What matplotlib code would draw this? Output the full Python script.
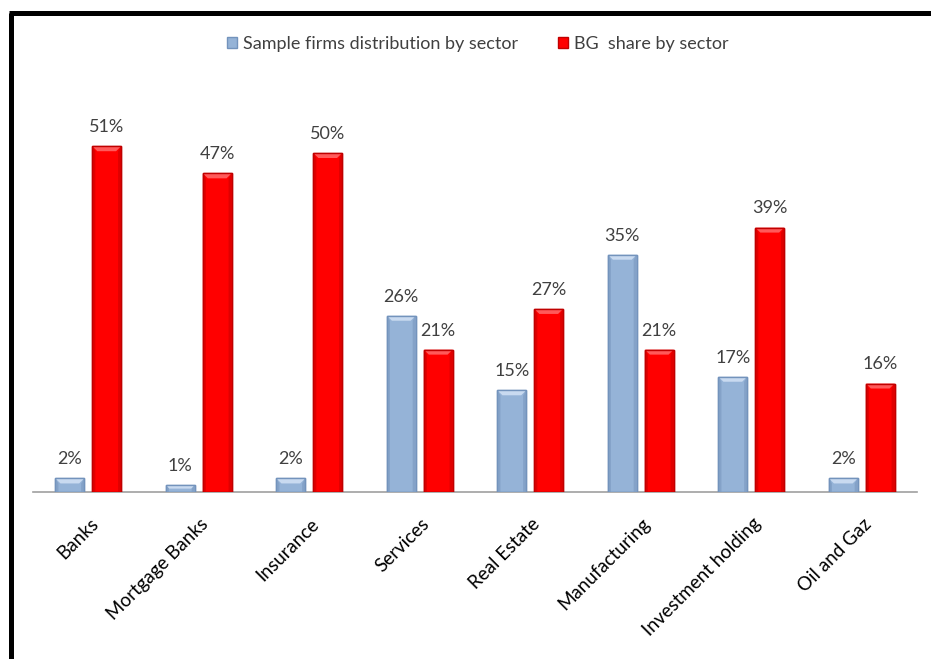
import matplotlib
matplotlib.use("Agg")
import matplotlib.pyplot as plt
import matplotlib.transforms as mtrans
import numpy as np
from matplotlib.lines import Line2D
from matplotlib.patches import Patch, Polygon

sectors = ["Banks", "Mortgage Banks", "Insurance", "Services", "Real Estate",
           "Manufacturing", "Investment holding", "Oil and Gaz"]
sample_share = [2, 1, 2, 26, 15, 35, 17, 2]
bg_share = [51, 47, 50, 21, 27, 21, 39, 16]
series_names = ["Sample firms distribution by sector", "BG  share by sector"]

blue_face, blue_edge, blue_light, blue_dark = "#95B3D7", "#7393BC", "#C9DAF0", "#84A2C8"
red_face, red_edge, red_light, red_dark = "#FF0000", "#C00000", "#FF5A5A", "#E00000"
text_color = "#404040"

plt.rcParams["font.family"] = ["Lato", "DejaVu Sans"]

fig = plt.figure(figsize=(9.31, 6.59), dpi=100)
fig.patch.set_facecolor("white")
W, H = 931, 659
ax = fig.add_axes([33 / W, 1 - 492 / H, (917 - 33) / W, (492 - 100) / H])

x = np.arange(len(sectors))
off, bw = 0.167, 0.26
b1 = ax.bar(x - off, sample_share, bw, color=blue_face, edgecolor=blue_edge, linewidth=1.0, zorder=3)
b2 = ax.bar(x + off, bg_share, bw, color=red_face, edgecolor=red_edge, linewidth=1.0, zorder=3)

ax.set_xlim(-0.5, len(sectors) - 0.5)
ax.set_ylim(0, (492 - 100) / 6.78)

# bevelled look: light top facet and darker side facets, in pixel units
fig.canvas.draw()
bev = 5
for bars, light, dark in ((b1, blue_light, blue_dark), (b2, red_light, red_dark)):
    for r in bars:
        (x0, y0), (x1, y1) = ax.transData.transform(
            [(r.get_x(), 0), (r.get_x() + r.get_width(), r.get_height())])
        b = min(bev, (y1 - y0) / 2)
        for pts, c in (
            ([(x0, y1), (x1, y1), (x1 - b, y1 - b), (x0 + b, y1 - b)], light),
            ([(x0, y0), (x0 + 3, y0), (x0 + 3, y1 - b), (x0, y1)], dark),
            ([(x1, y0), (x1 - 3, y0), (x1 - 3, y1 - b), (x1, y1)], dark),
        ):
            ax.add_patch(Polygon(pts, closed=True, transform=None, facecolor=c,
                                 edgecolor="none", zorder=3.5))
        ax.add_patch(Polygon([(x0, y0), (x0, y1), (x1, y1), (x1, y0)], closed=True,
                             transform=None, facecolor="none",
                             edgecolor=r.get_edgecolor(), linewidth=1.0, zorder=3.6))

for bars, vals in ((b1, sample_share), (b2, bg_share)):
    for r, v in zip(bars, vals):
        ax.annotate(f"{v}%", (r.get_x() + r.get_width() / 2, v), xytext=(0, 8),
                    textcoords="offset points", ha="center", va="bottom",
                    fontsize=13, color=text_color)

ax.set_yticks([])
for s in ("top", "right", "left"):
    ax.spines[s].set_visible(False)
ax.spines["bottom"].set_color("#A0A0A0")
ax.spines["bottom"].set_linewidth(1.2)
ax.set_xticks(x)
ax.tick_params(axis="x", length=0, pad=21)
ax.set_xticklabels(sectors, rotation=45, ha="right", va="center",
                   rotation_mode="anchor", fontsize=13.5, color="black")
shift = mtrans.ScaledTranslation(7 / 100, 0, fig.dpi_scale_trans)
for lab in ax.get_xticklabels():
    lab.set_transform(lab.get_transform() + shift)

handles = [Patch(facecolor=blue_face, edgecolor=blue_edge),
           Patch(facecolor=red_face, edgecolor=red_edge)]
fig.legend(handles, series_names, loc="center", bbox_to_anchor=(478 / W, 1 - 44 / H),
           ncol=2, frameon=False, fontsize=13, handlelength=0.55, handleheight=0.55,
           handletextpad=0.35, columnspacing=2.2, labelcolor=text_color)

# frame around the chart area
fig.add_artist(Line2D([10.5 / W, 10.5 / W], [0, 1 - 12.5 / H], transform=fig.transFigure,
                      color="black", linewidth=3.6, solid_capstyle="butt"))
fig.add_artist(Line2D([8.7 / W, 1], [1 - 12.5 / H, 1 - 12.5 / H], transform=fig.transFigure,
                      color="black", linewidth=3.6, solid_capstyle="butt"))

fig.savefig("out.png", dpi=100, facecolor="white")
